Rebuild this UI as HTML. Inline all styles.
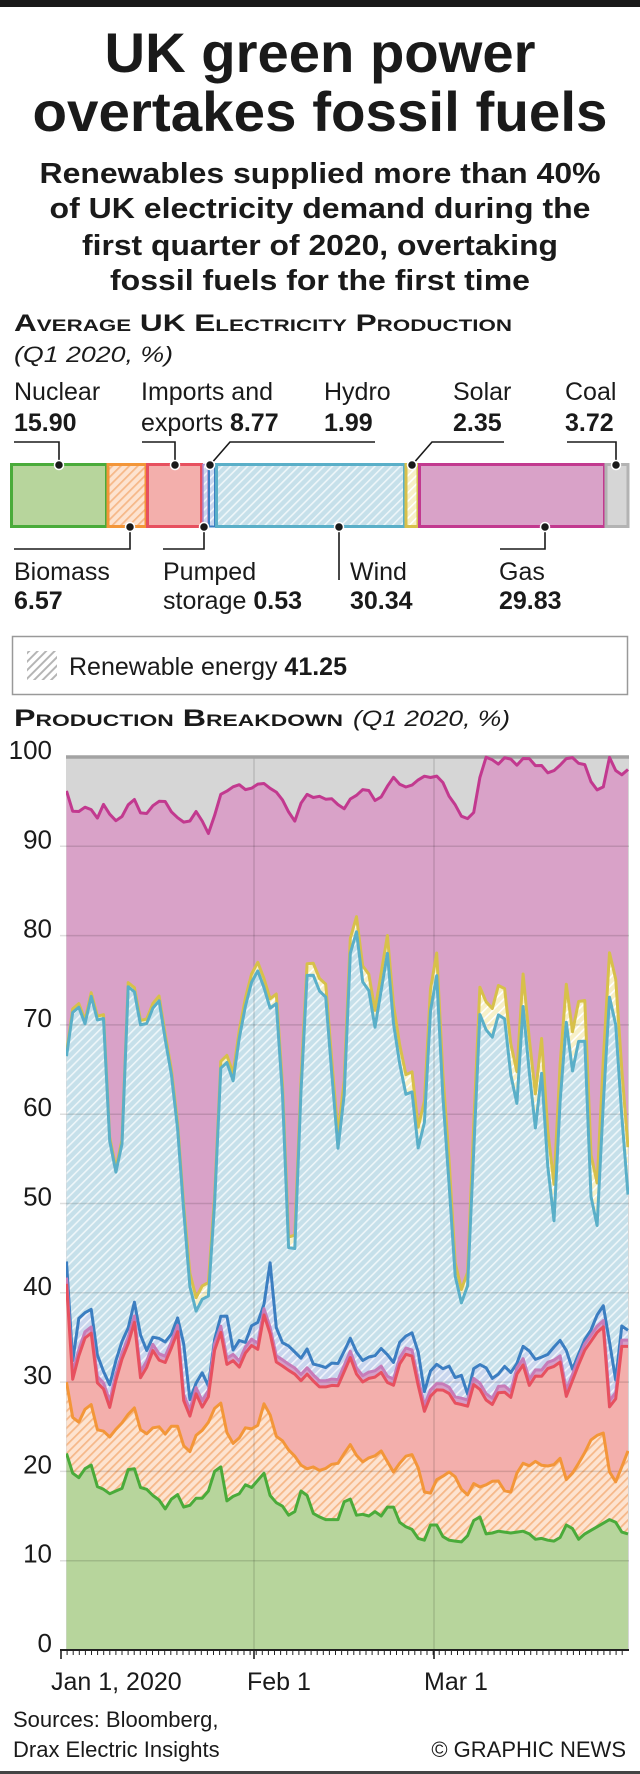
<!DOCTYPE html>
<html><head><meta charset="utf-8"><style>
html,body{margin:0;padding:0;background:#fff}
svg{display:block}
text{font-family:"Liberation Sans",Arial,sans-serif;fill:#1a1a1a}
.b{font-weight:bold}
</style></head><body>
<svg id="s" width="640" height="1774" viewBox="0 0 640 1774" xmlns="http://www.w3.org/2000/svg">
<defs>
<pattern id="hBlue" width="6" height="6" patternUnits="userSpaceOnUse" patternTransform="rotate(45)"><rect width="6" height="6" fill="#c6e0ea"/><rect width="1.6" height="6" fill="#eef6f9"/></pattern>
<pattern id="hOr" width="6" height="6" patternUnits="userSpaceOnUse" patternTransform="rotate(45)"><rect width="6" height="6" fill="#fde3d0"/><rect width="1.8" height="6" fill="#f6b889"/></pattern>
<pattern id="hYel" width="6" height="6" patternUnits="userSpaceOnUse" patternTransform="rotate(45)"><rect width="6" height="6" fill="#f7f0c8"/><rect width="1.6" height="6" fill="#fff"/></pattern>
<pattern id="hHyd" width="6" height="6" patternUnits="userSpaceOnUse" patternTransform="rotate(45)"><rect width="6" height="6" fill="#c9d6ee"/><rect width="1.6" height="6" fill="#f1f4fb"/></pattern>
<pattern id="hGrey" width="6" height="6" patternUnits="userSpaceOnUse" patternTransform="rotate(45)"><rect width="6" height="6" fill="#fff"/><rect width="2" height="6" fill="#b5b5b5"/></pattern>
<clipPath id="cc"><rect x="66" y="750" width="563" height="901"/></clipPath>
</defs>
<rect x="0" y="0" width="640" height="7" fill="#1a1a1a"/>
<rect x="0" y="1771" width="640" height="3" fill="#444"/>

<text x="320" y="72" text-anchor="middle" class="b" font-size="56" textLength="431" lengthAdjust="spacingAndGlyphs">UK green power</text>
<text x="320" y="131" text-anchor="middle" class="b" font-size="56" textLength="575" lengthAdjust="spacingAndGlyphs">overtakes fossil fuels</text>
<text x="320" y="183" text-anchor="middle" class="b" font-size="29" textLength="561" lengthAdjust="spacingAndGlyphs">Renewables supplied more than 40%</text>
<text x="320" y="218" text-anchor="middle" class="b" font-size="29" textLength="541" lengthAdjust="spacingAndGlyphs">of UK electricity demand during the</text>
<text x="320" y="255" text-anchor="middle" class="b" font-size="29" textLength="476" lengthAdjust="spacingAndGlyphs">first quarter of 2020, overtaking</text>
<text x="320" y="290" text-anchor="middle" class="b" font-size="29" textLength="420" lengthAdjust="spacingAndGlyphs">fossil fuels for the first time</text>

<text x="14" y="331" class="b" font-size="24" style="font-variant:small-caps" textLength="498" lengthAdjust="spacingAndGlyphs">Average UK Electricity Production</text>
<text x="14" y="362" font-size="22" font-style="italic" textLength="159" lengthAdjust="spacingAndGlyphs">(Q1 2020, %)</text>

<g font-size="25">
<text x="14" y="400">Nuclear</text><text x="14" y="431" class="b">15.90</text>
<text x="141" y="400">Imports and</text><text x="141" y="431">exports <tspan class="b">8.77</tspan></text>
<text x="324" y="400">Hydro</text><text x="324" y="431" class="b">1.99</text>
<text x="453" y="400">Solar</text><text x="453" y="431" class="b">2.35</text>
<text x="565" y="400">Coal</text><text x="565" y="431" class="b">3.72</text>
<text x="14" y="580">Biomass</text><text x="14" y="609" class="b">6.57</text>
<text x="163" y="580">Pumped</text><text x="163" y="609">storage <tspan class="b">0.53</tspan></text>
<text x="350" y="580">Wind</text><text x="350" y="609" class="b">30.34</text>
<text x="499" y="580">Gas</text><text x="499" y="609" class="b">29.83</text>
</g>

<g stroke-width="3">
<rect x="11.5" y="464.5" width="95" height="62" fill="#b7d59c" stroke="#4aab3a"/>
<rect x="108" y="464.5" width="38" height="62" fill="url(#hOr)" stroke="#f39639"/>
<rect x="147.5" y="464.5" width="54" height="62" fill="#f3afac" stroke="#e7505f"/>
<rect x="203" y="464.5" width="5" height="62" fill="url(#hHyd)" stroke="#a98ed0" stroke-width="1.5"/>
<rect x="209" y="464.5" width="6" height="62" fill="url(#hHyd)" stroke="#3b7ec1" stroke-width="2"/>
<rect x="216.5" y="464.5" width="188" height="62" fill="url(#hBlue)" stroke="#5aafc8"/>
<rect x="406" y="464.5" width="12" height="62" fill="url(#hYel)" stroke="#d7c04a"/>
<rect x="419.5" y="464.5" width="185" height="62" fill="#d9a2c8" stroke="#c2398f"/>
<rect x="606" y="464.5" width="22" height="62" fill="#d6d6d6" stroke="#b3b3b3"/>
</g>
<g stroke="#1a1a1a" stroke-width="1.6" fill="none">
<polyline points="14,442 59,442 59,465"/>
<polyline points="142,442 175,442 175,465"/>
<polyline points="375,442 230,442 210,465"/>
<polyline points="504,442 432,442 412,465"/>
<polyline points="567,442 616,442 616,465"/>
<polyline points="130,527 130,549 14,549"/>
<polyline points="204,527 204,549 163,549"/>
<polyline points="339,527 339,580"/>
<polyline points="545,527 545,549 500,549"/>
</g>
<g fill="#1a1a1a" stroke="#fff" stroke-width="1.5">
<circle cx="59" cy="465" r="4.5"/><circle cx="175" cy="465" r="4.5"/><circle cx="210" cy="465" r="4.5"/><circle cx="412" cy="465" r="4.5"/><circle cx="616" cy="465" r="4.5"/>
<circle cx="130" cy="527" r="4.5"/><circle cx="204" cy="527" r="4.5"/><circle cx="339" cy="527" r="4.5"/><circle cx="545" cy="527" r="4.5"/>
</g>

<rect x="12.5" y="636.5" width="615" height="58" fill="#fff" stroke="#999" stroke-width="1.5"/>
<rect x="27" y="651" width="30" height="29" fill="url(#hGrey)"/>
<text x="69" y="675" font-size="25">Renewable energy <tspan class="b">41.25</tspan></text>

<text x="14" y="726" class="b" font-size="24" style="font-variant:small-caps" textLength="329" lengthAdjust="spacingAndGlyphs">Production Breakdown</text>
<text x="353" y="726" font-size="22" font-style="italic" textLength="157" lengthAdjust="spacingAndGlyphs">(Q1 2020, %)</text>

<g id="chart" clip-path="url(#cc)"></g>
<g id="grid"></g>
<g id="lines" clip-path="url(#cc)"></g>
<g id="axis"></g>

<g font-size="26" text-anchor="end" id="ylab"></g>
<g font-size="25">
<text x="51" y="1690">Jan 1, 2020</text>
<text x="247" y="1690">Feb 1</text>
<text x="424" y="1690">Mar 1</text>
</g>
<text x="13" y="1727" font-size="22">Sources: Bloomberg,</text>
<text x="13" y="1757" font-size="22">Drax Electric Insights</text>
<text x="626" y="1757" font-size="22" text-anchor="end">© GRAPHIC NEWS</text>
</svg>
<script>
(function(){
var NS="http://www.w3.org/2000/svg";
function el(p,t,a){var e=document.createElementNS(NS,t);for(var k in a)e.setAttribute(k,a[k]);p.appendChild(e);return e;}
var n=92;
function rs(a){var o=[];for(var i=0;i<n;i++){var f=i*(a.length-1)/(n-1),j=Math.floor(f),r=f-j;var v=j+1<a.length?a[j]*(1-r)+a[j+1]*r:a[j];o.push(v);}return o;}
var N=rs([22,19.8,19.3,20.3,20.7,18.3,18,17.5,17.8,18.1,20.2,20.3,18.2,18,17.3,16.8,15.8,16.9,17.4,16,16.2,17,17,17.8,20,20.5,16.7,17.2,17.5,18.5,18.2,19,19.8,17.3,16.5,16.1,15.1,15.5,17.8,17.3,15.3,14.9,14.6,14.6,14.6,16.6,16.9,15.1,15.2,15,15.5,15,16,16,14.3,13.8,13.5,12.5,12.3,14,14,12.7,12.3,12.2,12.1,12.8,14.5,14.9,13,13.1,13.3,13.2,13.1,13.2,13.3,13,12.4,12.5,12.3,12.2,12.6,14,13.6,12.4,13,13.4,13.8,14.2,14.6,14.3,13.2,13]);
var B=rs([30,26,25.5,27,27.5,24.5,24.5,23.8,24.8,25.5,26.5,27.2,24.3,24.2,25,25,24,25.3,25,22.3,22.2,24.6,24.6,25.8,27.5,27.7,23,23.2,24,25.3,24.5,25.5,28.7,25,23.3,23.5,21.7,21.7,20,20.5,20.5,19.8,20.8,20.8,21,23,23,20.5,21.7,21.3,22.3,22.3,19.5,20.5,21.5,22,21.7,18.2,16.8,19,19.2,20,19.8,18.5,16.8,18.8,18.2,18.4,18.8,19.2,18,17.2,19.5,21,20.5,21.2,20.7,20.6,20.6,21.8,19,19.7,20.8,22,23.5,24,24.5,20,18.8,20.5,22.3]);
var I=rs([41,30.2,33,35,35.5,29.6,29.2,27,30.5,32.8,34.5,37,29.5,32,33.8,32.2,32.2,34.2,36,25.8,26.3,29.4,26.5,29,35.2,35.7,30.5,33.2,31,34.3,34,33.5,39.7,33,31.8,31.8,31,30.8,29.7,31.8,28.8,30,29,30.2,29,33.3,32.2,29.5,30.6,30.2,31,31.2,28.3,31.5,32.8,33.6,31.8,26,28,29.2,29,29.3,27.5,28,26.3,29.8,29.5,28.3,27.1,28.7,29.2,27.7,30.5,32.5,29.4,30.7,30.5,31.5,31.6,32.8,28.2,30,31.8,33.5,34.5,35.5,36.6,27.2,28,34,34]);
var H=rs([43.5,32,37.5,37.8,38.2,32,31,29.3,33.5,35,36.6,40.3,32,34.7,35.3,34.5,34.5,36.5,38.2,27.7,28.7,32,28.5,31.3,37.2,38.2,32.5,34.8,33,36.3,36.7,36.7,44,35,34.3,34,33.2,32.5,34.2,31,32.3,31.2,32.8,31.5,35.3,34.5,32,33,32.5,33.8,33.7,31.5,34.3,35,35.8,34,28.7,31.2,32,31.5,31.8,30.4,30.8,28.3,32.2,31.9,31.5,30,31.3,32,30.5,33,34.8,32.3,32.8,32.8,33.5,34.6,34.8,31,32.5,34,35.5,37.2,39.1,35,29.8,36.3,35.8]);
var W=rs([66.5,71.5,72,70,73.5,70.2,70.8,54.5,53.3,57.5,79,72,69.3,70.5,72.5,72.8,66,63.5,55,45,37.3,38.5,40,39.3,62,69,61.5,67,71,74,76.3,75.5,71,74.2,67,46,41.5,60,75.5,75.8,73.8,73.8,65,56,62,78.2,80.5,74.5,73.8,69.3,74.5,78.6,68.5,65,61.5,62.8,54,61,76,75.3,55,50.5,36.5,40.5,41,68,74,65,72.5,69.5,72.2,53.5,73,70.5,54,67.5,58,44.5,58,72,64.2,67.5,71.2,51.5,46,60,73.3,70.5,60,51]);
var G=rs([96.2,93.9,93.9,94.4,94.1,93.1,94.8,93.5,92.8,93.4,94.8,95.3,93.5,93.7,94.7,95.1,95,93.6,93.1,92.6,92.9,94.2,92.4,91.1,94.3,96.4,96.1,96.9,96.9,96.1,96.7,97.1,97,96.2,96,94.7,93.3,92.5,96.5,95.3,95.6,95.6,95,95.6,93.8,94.6,96,95.4,97.4,94.9,95.4,95.7,98.1,97.2,96.6,96.7,97.1,98,97.6,97.9,97.8,95.8,95.2,93.4,93.3,92.6,96.9,100,99.9,99,99.9,100,98.9,99.8,100,99,99.2,98.2,98.4,99,99.8,100,99.3,99.3,97.3,96.3,96.5,100,98.5,98,98.6]);
var P=[],S=[];
for(var i=0;i<n;i++){P.push(I[i]+0.7);if(H[i]<P[i]+0.5)H[i]=P[i]+0.5;var s=W[i]+0.4+5*Math.pow(i/n,2);if(W[i]<45)s=W[i]+1.5;S.push(Math.min(s,G[i]-0.5));}
var X0=66.5,X1=628,Y0=1650,K=8.93;
function X(i){return X0+i*(X1-X0)/(n-1);}
function Y(v){return Y0-v*K;}
function pts(a){var s="";for(var i=0;i<n;i++)s+=(i?" L":"M")+X(i).toFixed(1)+","+Y(a[i]).toFixed(1);return s;}
function area(a){return "M"+X0+","+Y0+" L"+pts(a).slice(1)+" L"+X1+","+Y0+" Z";}
var c=document.getElementById("chart");
el(c,"rect",{x:66,y:757,width:563,height:893,fill:"#d6d6d6"});
var fills=[[G,"#d9a2c8"],[S,"url(#hYel)"],[W,"url(#hBlue)"],[H,"url(#hHyd)"],[P,"#d4a0c8"],[I,"#f3afac"],[B,"url(#hOr)"],[N,"#b7d59c"]];
fills.forEach(function(f){el(c,"path",{d:area(f[0]),fill:f[1]});});
var g=document.getElementById("grid");
for(var v=10;v<=90;v+=10)el(g,"line",{x1:60,x2:629,y1:Y(v),y2:Y(v),stroke:"rgba(0,0,0,0.13)","stroke-width":1.5});
[254,434].forEach(function(x){el(g,"line",{x1:x,x2:x,y1:757,y2:1650,stroke:"rgba(0,0,0,0.13)","stroke-width":1.5});});
var L=document.getElementById("lines");
el(L,"line",{x1:60,x2:629,y1:Y(100),y2:Y(100),stroke:"#a3a3a3","stroke-width":3.5});
var ls=[[G,"#c2398f"],[S,"#d7c04a"],[W,"#5aafc8"],[H,"#3b7ec1"],[P,"#c77bb8"],[I,"#e7505f"],[B,"#f39639"],[N,"#4aab3a"]];
ls.forEach(function(f){el(L,"path",{d:pts(f[0]),fill:"none",stroke:f[1],"stroke-width":3,"stroke-linejoin":"round"});});
var ax=document.getElementById("axis");
el(ax,"line",{x1:60,x2:629,y1:1650,y2:1650,stroke:"#222","stroke-width":2});
for(var x=61;x<=628;x+=6.1)el(ax,"line",{x1:x,x2:x,y1:1650,y2:1655,stroke:"#222","stroke-width":1});
[61,254,434].forEach(function(x){el(ax,"line",{x1:x,x2:x,y1:1650,y2:1659,stroke:"#222","stroke-width":1.6});});
var yl=document.getElementById("ylab");
for(var v=0;v<=100;v+=10){var t=el(yl,"text",{x:52,y:(Y(v)+2).toFixed(1)});t.textContent=v;}
})();
</script>
</body></html>
